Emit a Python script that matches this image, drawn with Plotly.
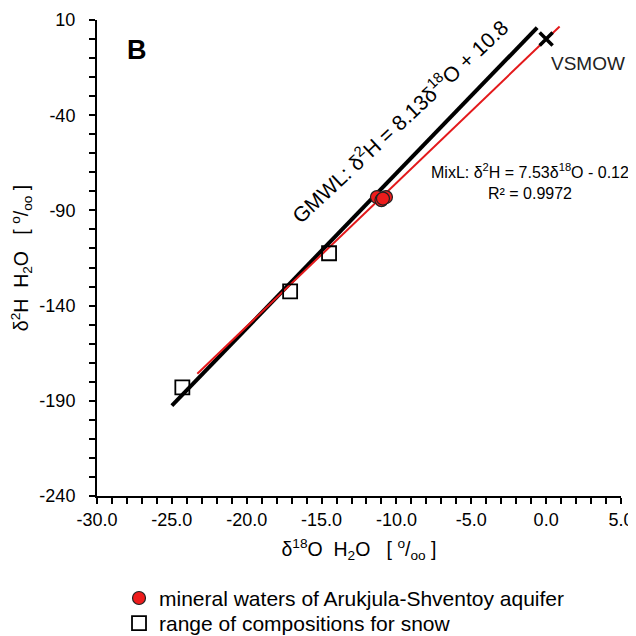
import plotly.graph_objects as go

# Data
snow_x = [-24.3, -17.1, -14.5]
snow_y = [-183.0, -132.5, -112.5]

mineral_x = [-11.3, -11.0, -10.7, -10.9]
mineral_y = [-83.0, -84.6, -83.0, -83.8]

gmwl_x = [-25.0, -0.6]
gmwl_y = [-192.5, 6.0]

mixl_x = [-23.3, 0.9]
mixl_y = [-175.8, 6.6]

vsmow_x = [0.0]
vsmow_y = [0.0]

x_ticks = [-30, -25, -20, -15, -10, -5, 0, 5]
x_labels = ["-30.0", "-25.0", "-20.0", "-15.0", "-10.0", "-5.0", "0.0", "5.0"]
y_ticks = [10, -40, -90, -140, -190, -240]
y_labels = ["10", "-40", "-90", "-140", "-190", "-240"]

FONT = "Liberation Sans, Arial, sans-serif"

fig = go.Figure()

fig.add_trace(go.Scatter(x=gmwl_x, y=gmwl_y, mode="lines",
                         line=dict(color="black", width=4), showlegend=False))
fig.add_trace(go.Scatter(x=mixl_x, y=mixl_y, mode="lines",
                         line=dict(color="#e3191b", width=2), showlegend=False))
fig.add_trace(go.Scatter(x=mineral_x, y=mineral_y, mode="markers",
                         name="mineral waters of Arukjula-Shventoy aquifer",
                         legend="legend",
                         marker=dict(symbol="circle", size=13, color="#ee1c1c",
                                     line=dict(color="#222222", width=1.2))))
fig.add_trace(go.Scatter(x=snow_x, y=snow_y, mode="markers",
                         name="range of compositions for snow",
                         legend="legend2",
                         marker=dict(symbol="square-open", size=14, color="black",
                                     line=dict(color="black", width=1.8))))
fig.add_trace(go.Scatter(x=vsmow_x, y=vsmow_y, mode="markers", showlegend=False,
                         marker=dict(symbol="x-thin", size=13,
                                     line=dict(color="black", width=3.5))))

fig.add_annotation(x=-27.3, y=-6, xref="x", yref="y", text="<b>B</b>",
                   showarrow=False, font=dict(size=27, color="black", family=FONT))
fig.add_annotation(x=-9.85, y=-42.8, xref="x", yref="y",
                   text="GMWL: δ<sup>2</sup>H = 8.13δ<sup>18</sup>O + 10.8",
                   textangle=-43, showarrow=False,
                   font=dict(size=21, color="black", family=FONT))
fig.add_annotation(x=-1.1, y=-74.6, xref="x", yref="y",
                   text="MixL: δ<sup>2</sup>H = 7.53δ<sup>18</sup>O - 0.12<br>R² = 0.9972",
                   showarrow=False, align="center",
                   font=dict(size=16, color="black", family=FONT))
fig.add_annotation(x=0.2, y=-12.6, xref="x", yref="y", text="VSMOW",
                   showarrow=False, xanchor="left",
                   font=dict(size=19, color="#222222", family=FONT))

legend_style = dict(xanchor="left", yanchor="top",
                    font=dict(size=21, color="black", family=FONT),
                    itemwidth=30, tracegroupgap=0, bgcolor="rgba(0,0,0,0)")

# The page body keeps its default 8px margin, so the figure starts at (8, 8)
fig.update_layout(
    width=628, height=628,
    margin=dict(l=89, r=15, t=12, b=140, autoexpand=False),
    paper_bgcolor="white", plot_bgcolor="white",
    font=dict(family=FONT, size=15, color="black"),
    legend=dict(x=0.042, y=-0.172, **legend_style),
    legend2=dict(x=0.042, y=-0.2248, **legend_style),
    xaxis=dict(range=[-30, 5], tickvals=x_ticks, ticktext=x_labels,
               automargin=False,
               showgrid=False, zeroline=False, showline=True,
               linecolor="black", linewidth=2, ticks="outside", ticklen=6,
               tickwidth=1.5, tickcolor="black", ticklabelstandoff=0,
               minor=dict(dtick=1, ticks="outside", ticklen=6, tickwidth=1.5,
                          tickcolor="black", showgrid=False),
               tickfont=dict(size=18, family=FONT),
               title=dict(text="δ<sup>18</sup>O  H<sub>2</sub>O   [ <sup>o</sup>/<sub>oo</sub> ]",
                          font=dict(size=19.5, family=FONT), standoff=14)),
    yaxis=dict(range=[-240, 10], tickvals=y_ticks, ticktext=y_labels,
               automargin=False,
               showgrid=False, zeroline=False, showline=True,
               linecolor="black", linewidth=2, ticks="outside", ticklen=6,
               tickwidth=1.5, tickcolor="black", ticklabelstandoff=10,
               minor=dict(dtick=10, ticks="outside", ticklen=6, tickwidth=1.5,
                          tickcolor="black", showgrid=False),
               tickfont=dict(size=18, family=FONT),
               title=dict(text="δ<sup>2</sup>H  H<sub>2</sub>O   [ <sup>o</sup>/<sub>oo</sub> ]",
                          font=dict(size=19.5, family=FONT), standoff=10)),
)

fig.write_html("out.html")
